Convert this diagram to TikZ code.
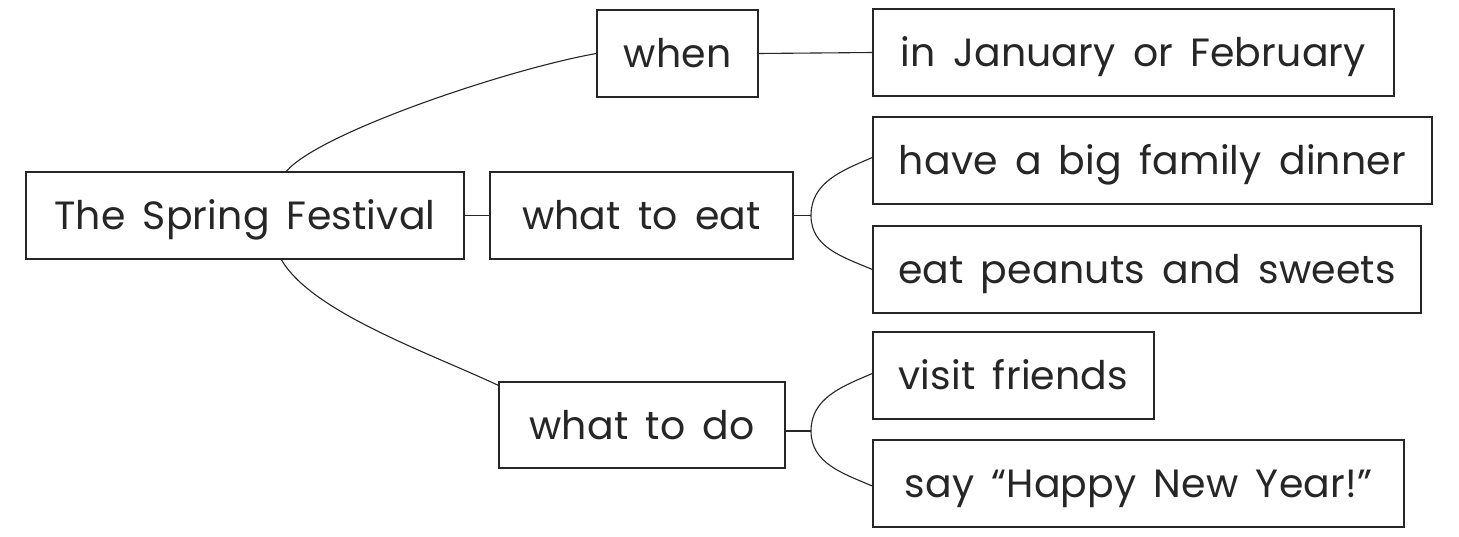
\documentclass[tikz,border=0pt]{standalone}
\usepackage{fontspec}
\setmainfont{Poppins}[LetterSpace=0.5,WordSpace=1.6]
\definecolor{ink}{HTML}{262626}
\begin{document}
\begin{tikzpicture}[x=1pt,y=1pt,
  box/.style={draw=ink,line width=1.3pt,rectangle,minimum height=87pt,inner sep=0pt,
    text=ink,font=\fontsize{39.4}{40}\selectfont,anchor=center,text height=28pt,text depth=0pt},
  link/.style={draw=ink,line width=1.1pt}]
\useasboundingbox (0,0) rectangle (1459,-536);
\fill[white] (0,0) rectangle (1459,-536);
\node[box,minimum width=438pt] (spring) at (245,-215.5) {The Spring Festival};
\node[box,minimum width=161pt] (when) at (677.5,-53.5) {when};
\node[box,minimum width=303pt] (eat) at (641.5,-215.5) {what to eat};
\node[box,minimum width=286pt,minimum height=86pt] (do) at (642,-425) {what to do};
\node[box,minimum width=521pt] (jan) at (1133.5,-52.5) {in January or February};
\node[box,minimum width=559pt] (dinner) at (1152.5,-160.5) {have a big family dinner};
\node[box,minimum width=548pt] (peanuts) at (1147,-269.5) {eat peanuts and sweets};
\node[box,minimum width=281pt] (visit) at (1013.5,-375.5) {visit friends};
\node[box,minimum width=531pt] (happy) at (1138.5,-483.5) {say “Happy New Year!”};
\coordinate (eatfork) at (811,-215.5);
\coordinate (dofork) at (811,-431);
% connectors
\draw[link] ([xshift=261pt]spring.north west) to[out=50,in=190,out distance=50pt,in distance=90pt] (when.west);
\draw[link] ([xshift=256pt]spring.south west) to[out=-60,in=155,out distance=60pt,in distance=80pt] ([yshift=-4pt]do.north west);
\draw[link] (spring.east) -- (eat.west);
\draw[link] (when.east) -- (jan.west);
\draw[link] (eat.east) -- (eatfork);
\draw[link] (eatfork) to[out=90,in=203] ([yshift=3pt]dinner.west);
\draw[link] (eatfork) to[out=-90,in=157] (peanuts.west);
\draw[link] ([yshift=-6pt]do.east) -- (dofork);
\draw[link] (dofork) to[out=90,in=203] ([yshift=2pt]visit.west);
\draw[link] (dofork) to[out=-90,in=157] ([yshift=-2.5pt]happy.west);
\end{tikzpicture}
\end{document}
